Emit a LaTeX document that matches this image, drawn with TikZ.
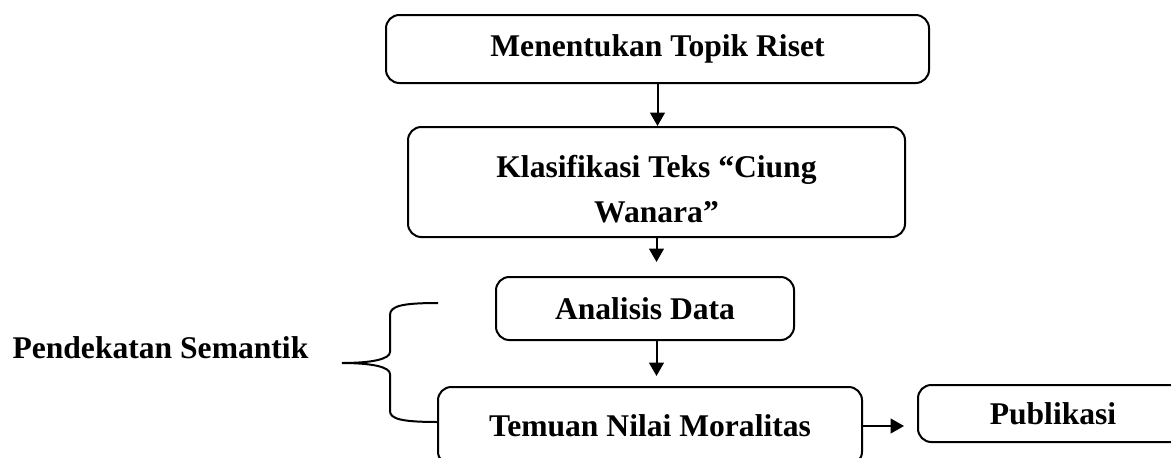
\documentclass[tikz,border=0pt]{standalone}
\usepackage{fontspec}
\setmainfont{Liberation Serif}
\usetikzlibrary{arrows.meta}

\tikzset{every picture/.style={line width=0.75pt}}
\tikzset{
  stepbox/.style={draw, line width=1.5, rounded corners=10pt, align=center, inner sep=0pt,
    font=\fontsize{23.7}{33.8}\selectfont\bfseries},
  flowarrow/.style={line width=1.5, -{Triangle[length=10pt,width=11pt]}},
}

\begin{document}
\begin{tikzpicture}[x=0.75pt,y=0.75pt,yscale=-1,xscale=1]
\useasboundingbox (0,0) rectangle (1171,457);
\clip (0,0) rectangle (1171,457);

% Rounded boxes
\node [stepbox, minimum width=543*0.75pt, minimum height=68*0.75pt] (topik) at (657.5,49) {Menentukan Topik Riset};
\node [stepbox, minimum width=497*0.75pt, minimum height=110*0.75pt] (klasifikasi) at (656.5,182) {\rule{0pt}{28pt}Klasifikasi Teks “Ciung\\Wanara”};
\node [stepbox, minimum width=298*0.75pt, minimum height=63*0.75pt] (analisis) at (645,308.5) {Analisis Data};
\node [stepbox, minimum width=424*0.75pt, minimum height=78*0.75pt] (temuan) at (650,426) {Temuan Nilai Moralitas};
\node [stepbox, minimum width=270*0.75pt, minimum height=57*0.75pt] (publikasi) at (1053,413.5) {Publikasi};

% Text Node
\node [font=\fontsize{23.7}{28}\selectfont\bfseries, anchor=base west, inner sep=0pt] (semantik) at (12,358) {Pendekatan Semantik};

% Arrows
\draw [flowarrow] (topik.south) -- (topik.south |- klasifikasi.north);
\draw [flowarrow, shorten >=10.5pt] (klasifikasi.south) -- (klasifikasi.south |- analisis.north);
\draw [flowarrow, shorten >=7.5pt] (analisis.south -| klasifikasi.south) -- (klasifikasi.south |- temuan.north);
\draw [flowarrow, shorten >=9.75pt] (temuan.east) -- (temuan.east -| publikasi.west);

%Shape: Brace
\draw [line width=1.5] (438,303) .. controls (402,303) and (390,306) .. (390,315) -- (390,352)
  .. controls (390,359) and (372,363) .. (342,363)
  .. controls (372,363) and (390,367) .. (390,374) -- (390,411)
  .. controls (390,419) and (402,422) .. (438,422) ;

\end{tikzpicture}
\end{document}
